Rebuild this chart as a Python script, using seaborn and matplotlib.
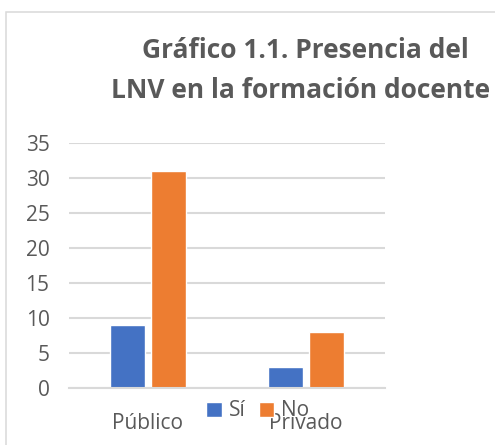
import matplotlib
matplotlib.use("Agg")
import matplotlib.pyplot as plt
from matplotlib.patches import Rectangle
import seaborn as sns
import pandas as pd

# data
categories = ["Público", "Privado"]
series = ["Sí", "No"]
si_values = [9, 3]
no_values = [31, 8]
y_ticks = [0, 5, 10, 15, 20, 25, 30, 35]

df = pd.DataFrame({
    "tipo": categories * 2,
    "respuesta": [series[0]] * len(categories) + [series[1]] * len(categories),
    "valor": si_values + no_values,
})

sns.set_theme(style="white")
plt.rcParams["font.family"] = ["Open Sans", "DejaVu Sans"]
text_color = "#595959"
grid_color = "#d9d9d9"

W, H = 495, 445
fig = plt.figure(figsize=(W / 100, H / 100), dpi=100)
ax = fig.add_axes([69 / W, (H - 388) / H, 316 / W, (388 - 143) / H])

sns.barplot(data=df, x="tipo", y="valor", hue="respuesta", order=categories,
            hue_order=series, palette=["#4472C4", "#ED7D31"], width=0.51,
            gap=0.13, saturation=1, ax=ax, legend=True)

ax.set_ylim(0, 35)
ax.set_yticks(y_ticks)
ax.set_xlim(-0.5, 1.5)
ax.yaxis.grid(True, color=grid_color, linewidth=1.5)
ax.set_axisbelow(True)
for side in ["top", "right", "left"]:
    ax.spines[side].set_visible(False)
ax.spines["bottom"].set_color(grid_color)
ax.spines["bottom"].set_linewidth(1.5)
ax.set_xlabel("")
ax.set_ylabel("")
ax.tick_params(axis="both", length=0, labelsize=15, colors=text_color)
ax.tick_params(axis="y", pad=14)
ax.tick_params(axis="x", pad=18)

leg = ax.legend(loc="center", bbox_to_anchor=(258 / W, 1 - 411 / H),
                bbox_transform=fig.transFigure, ncol=2, frameon=False,
                fontsize=15, handlelength=0.75, handleheight=0.75,
                handletextpad=0.35, columnspacing=0.6, borderpad=0)
for t in leg.get_texts():
    t.set_color(text_color)

fig.text(305 / W, 1 - 50 / H, "Gráfico 1.1. Presencia del", ha="center",
         va="center", fontsize=19, fontweight="bold", color=text_color)
fig.text(301 / W, 1 - 90 / H, "LNV en la formación docente", ha="center",
         va="center", fontsize=19, fontweight="bold", color=text_color)

# chart frame, cut off at the right and bottom edges
fig.patches.append(Rectangle((6 / W, -0.1), 1.2, 1.1 - 12 / H, fill=False,
                             edgecolor=grid_color, linewidth=1.1,
                             transform=fig.transFigure, figure=fig))

fig.savefig("out.png", dpi=100)
